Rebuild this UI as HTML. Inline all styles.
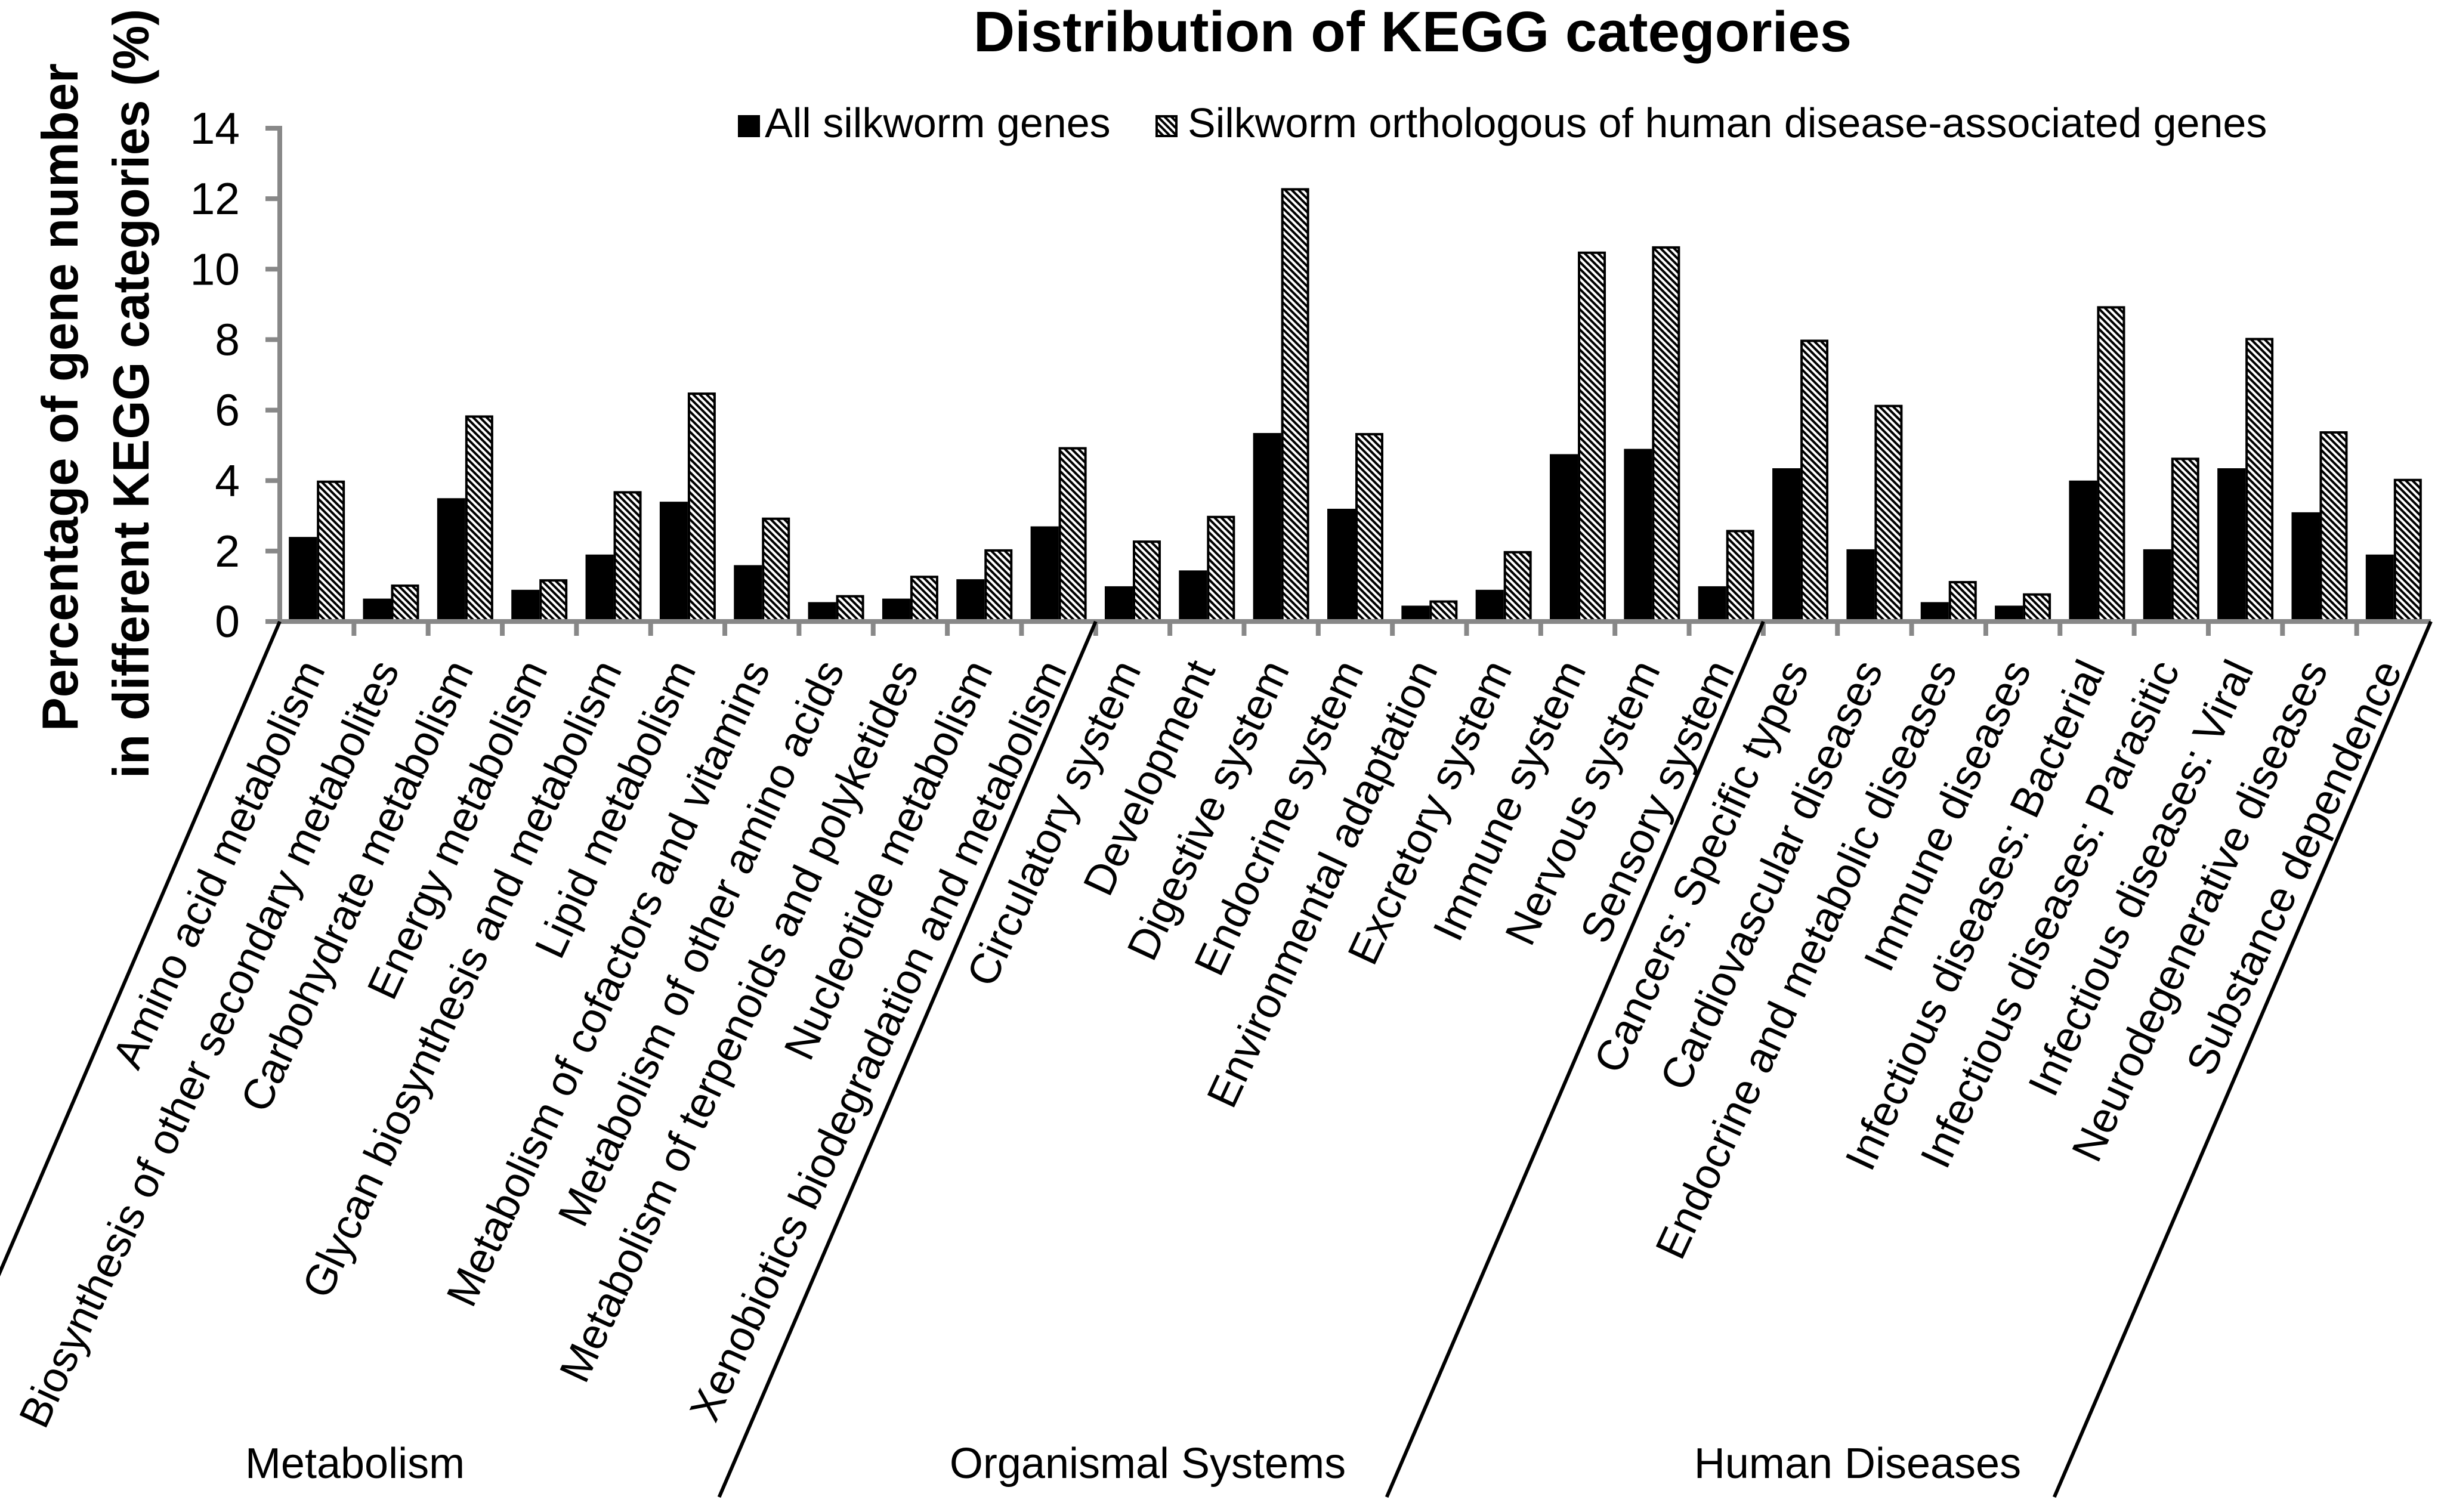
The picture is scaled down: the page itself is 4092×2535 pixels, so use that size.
<!DOCTYPE html>
<html><head><meta charset="utf-8"><style>html,body{margin:0;padding:0;background:#fff}svg{display:block}</style></head>
<body>
<svg id="chart" xmlns="http://www.w3.org/2000/svg" width="4092" height="2535" viewBox="0 0 4092 2535" font-family="'Liberation Sans', Arial, sans-serif">
<defs>
<pattern id="stripes" patternUnits="userSpaceOnUse" width="8" height="8" patternTransform="rotate(-45)">
<rect x="0" y="0" width="8" height="8" fill="#fff"/>
<rect x="0" y="0" width="4" height="8" fill="#000"/>
</pattern>
</defs>
<rect width="4092" height="2535" fill="#fff"/>
<text x="2368" y="86" font-size="96" font-weight="bold" text-anchor="middle">Distribution of KEGG categories</text>
<g>
<rect x="1237" y="193" width="37" height="37" fill="#000"/>
<text x="1282" y="230" font-size="70">All silkworm genes</text>
<rect x="1939" y="195" width="33" height="33" fill="url(#stripes)" stroke="#000" stroke-width="4"/>
<text x="1991" y="230" font-size="70">Silkworm orthologous of human disease-associated genes</text>
</g>
<g>
<text transform="translate(130,666) rotate(-90)" font-size="85" font-weight="bold" text-anchor="middle" textLength="1120" lengthAdjust="spacingAndGlyphs">Percentage of gene number</text>
<text transform="translate(249,660) rotate(-90)" font-size="85" font-weight="bold" text-anchor="middle" textLength="1290" lengthAdjust="spacingAndGlyphs">in different KEGG categories (%)</text>
</g>
<g id="plot"></g>
</svg>
<script>
const categories = ["Amino acid metabolism","Biosynthesis of other secondary metabolites","Carbohydrate metabolism","Energy metabolism","Glycan biosynthesis and metabolism","Lipid metabolism","Metabolism of cofactors and vitamins","Metabolism of other amino acids","Metabolism of terpenoids and polyketides","Nucleotide metabolism","Xenobiotics biodegradation and metabolism","Circulatory system","Development","Digestive system","Endocrine system","Environmental adaptation","Excretory system","Immune system","Nervous system","Sensory system","Cancers: Specific types","Cardiovascular diseases","Endocrine and metabolic diseases","Immune diseases","Infectious diseases: Bacterial","Infectious diseases: Parasitic","Infectious diseases: Viral","Neurodegenerative diseases","Substance dependence"];
const allGenes = [2.4,0.65,3.5,0.9,1.9,3.4,1.6,0.55,0.65,1.2,2.7,1.0,1.45,5.35,3.2,0.45,0.9,4.75,4.9,1.0,4.35,2.05,0.55,0.45,4.0,2.05,4.35,3.1,1.9];
const orthologous = [4.0,1.05,5.85,1.2,3.7,6.5,2.95,0.75,1.3,2.05,4.95,2.3,3.0,12.3,5.35,0.6,2.0,10.5,10.65,2.6,8.0,6.15,1.15,0.8,8.95,4.65,8.05,5.4,4.05];
const yTicks = [0,2,4,6,8,10,12,14];
const groupNames = ["Metabolism","Organismal Systems","Human Diseases"];
const groupSizes = [11,9,9];

const NS = "http://www.w3.org/2000/svg";
const plot = document.getElementById('plot');
const X0 = 469, X1 = 4075, Y0 = 1042, YTOP = 215, YMAX = 14;
const step = (X1 - X0) / categories.length;
const barW = 47;
function yScale(v){ return Y0 - (v / YMAX) * (Y0 - YTOP); }
function xCenter(i){ return X0 + (i + 0.5) * step; }
function mk(tag, attrs){ const e = document.createElementNS(NS, tag); for (const k in attrs) e.setAttribute(k, attrs[k]); plot.appendChild(e); return e; }

yTicks.forEach(function(t){
  const y = yScale(t);
  const tk = mk('line', {x1: 445, x2: X0, y1: y, y2: y, stroke: '#888', 'stroke-width': 8});
  
  
  const lb = mk('text', {x: 402, y: y + 26, 'font-size': 75, 'text-anchor': 'end'});
  lb.textContent = t;
  
  
});

categories.forEach(function(c, i){
  const cx = xCenter(i);
  const h1 = Y0 - yScale(allGenes[i]);
  const b1 = mk('rect', {x: cx - barW, y: yScale(allGenes[i]), width: barW, height: h1, fill: '#000'});
  
  
  const h2 = Y0 - yScale(orthologous[i]);
  const b2 = mk('rect', {x: cx + 2, y: yScale(orthologous[i]) + 2, width: barW - 4, height: Math.max(h2 - 2, 0), fill: 'url(#stripes)', stroke: '#000', 'stroke-width': 4});
  
  
  const lb = mk('text', {transform: 'translate(' + (cx + 15) + ',1122) rotate(-65)', 'font-size': 72, 'text-anchor': 'end'});
  lb.textContent = c;
  
  
});

const ya = mk('line', {x1: X0, x2: X0, y1: YTOP - 4, y2: Y0 + 4, stroke: '#888', 'stroke-width': 8});


const xa = mk('line', {x1: X0 - 4, x2: X1, y1: Y0, y2: Y0, stroke: '#888', 'stroke-width': 8});


for (let i = 1; i < categories.length; i++){
  const x = X0 + i * step;
  const t = mk('line', {x1: x, x2: x, y1: Y0, y2: Y0 + 24, stroke: '#888', 'stroke-width': 8});
  
  
}

const groupCenters = [595, 1924, 3114];
let acc = 0;
const bounds = [0];
groupSizes.forEach(function(s){ acc += s; bounds.push(acc); });
bounds.forEach(function(b, j){
  const x = X0 + b * step;
  const sl = mk('line', {x1: x, y1: Y0, x2: x - 0.43 * (2510 - Y0), y2: 2510, stroke: '#000', 'stroke-width': 6});
  
  
});
groupNames.forEach(function(g, j){
  const t = mk('text', {x: groupCenters[j], y: 2478, 'font-size': 72, 'text-anchor': 'middle'});
  t.textContent = g;
  
  
});
</script>
</body></html>
